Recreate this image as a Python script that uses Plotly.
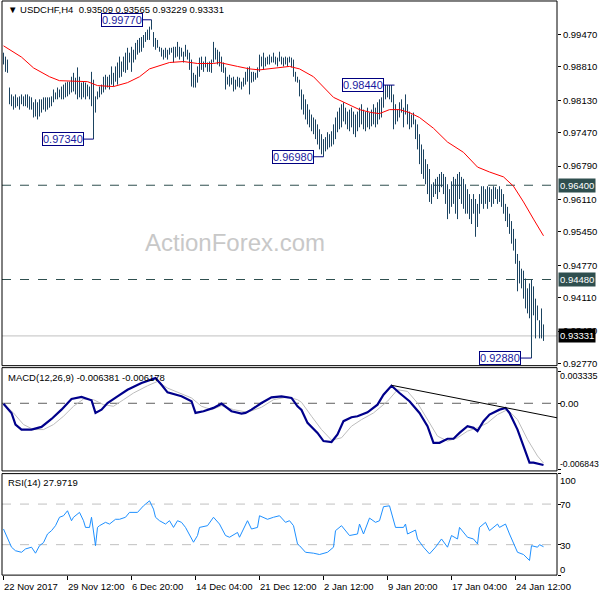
import plotly.graph_objects as go

# ---------------- data ----------------
bar_high = [
    .9910, .9902, .9896, .9839, .9825, .9821, .9825, .9819, .9821, .9825,
    .9821, .9825, .9825, .9821, .9819, .9809, .9815, .9809, .9815, .9815,
    .9819, .9819, .9819, .9819, .9821, .9835, .9829, .9839, .9835, .9841,
    .9845, .9849, .9851, .9851, .9861, .9869, .9859, .9880, .9861, .9849,
    .9851, .9849, .9845, .9841, .9871, .9855, .9821, .9831, .9841, .9845,
    .9861, .9865, .9861, .9865, .9882, .9869, .9882, .9890, .9902, .9892,
    .9902, .9910, .9920, .9910, .9922, .9916, .9930, .9936, .9940, .9942,
    .9946, .9952, .9957, .9963, .9977, .9952, .9940, .9936, .9922, .9920,
    .9916, .9920, .9916, .9920, .9920, .9922, .9922, .9932, .9922, .9920,
    .9912, .9926, .9916, .9910, .9896, .9869, .9865, .9882, .9900, .9902,
    .9892, .9902, .9890, .9892, .9896, .9932, .9920, .9916, .9912, .9902,
    .9890, .9880, .9861, .9865, .9859, .9861, .9855, .9861, .9859, .9851,
    .9859, .9871, .9880, .9882, .9871, .9871, .9869, .9880, .9906, .9902,
    .9910, .9900, .9902, .9906, .9902, .9910, .9902, .9900, .9912, .9902,
    .9900, .9902, .9900, .9902, .9900, .9896, .9871, .9861, .9855, .9835,
    .9825, .9815, .9805, .9794, .9784, .9778, .9774, .9764, .9754, .9744,
    .9734, .9738, .9748, .9744, .9750, .9764, .9778, .9790, .9798, .9805,
    .9809, .9798, .9790, .9794, .9798, .9790, .9784, .9790, .9798, .9805,
    .9794, .9790, .9798, .9788, .9794, .9805, .9798, .9809, .9815, .9819,
    .9844, .9844, .9844, .9844, .9844, .9825, .9805, .9794, .9809, .9815,
    .9798, .9825, .9805, .9790, .9784, .9788, .9774, .9764, .9744, .9723,
    .9713, .9693, .9683, .9673, .9642, .9646, .9653, .9657, .9663, .9667,
    .9663, .9657, .9642, .9632, .9648, .9657, .9653, .9663, .9667, .9657,
    .9653, .9642, .9632, .9622, .9612, .9622, .9612, .9602, .9622, .9638,
    .9638, .9632, .9638, .9636, .9632, .9638, .9636, .9632, .9638, .9632,
    .9622, .9602, .9596, .9582, .9567, .9551, .9531, .9500, .9486, .9470,
    .9466, .9450, .9430, .9440, .9448, .9434, .9409, .9395, .9365, .9389,
    .93565,
]
bar_low = [
    .9886, .9871, .9869, .9805, .9801, .9794, .9798, .9801, .9794, .9805,
    .9801, .9801, .9798, .9794, .9794, .9778, .9780, .9774, .9780, .9788,
    .9794, .9790, .9794, .9798, .9801, .9809, .9815, .9815, .9819, .9815,
    .9815, .9819, .9821, .9825, .9829, .9831, .9825, .9815, .9819, .9815,
    .9819, .9815, .9821, .9815, .9801, .9734, .9788, .9815, .9819, .9825,
    .9829, .9835, .9839, .9835, .9845, .9841, .9851, .9845, .9859, .9861,
    .9871, .9869, .9875, .9890, .9871, .9890, .9896, .9906, .9910, .9912,
    .9920, .9932, .9936, .9936, .9957, .9922, .9916, .9920, .9912, .9902,
    .9896, .9900, .9896, .9906, .9910, .9890, .9900, .9902, .9896, .9902,
    .9890, .9902, .9896, .9875, .9841, .9839, .9839, .9849, .9861, .9875,
    .9871, .9880, .9871, .9871, .9869, .9890, .9896, .9886, .9882, .9871,
    .9869, .9835, .9845, .9841, .9845, .9831, .9835, .9841, .9839, .9835,
    .9841, .9845, .9851, .9825, .9849, .9851, .9855, .9859, .9871, .9882,
    .9875, .9882, .9886, .9886, .9890, .9890, .9886, .9882, .9892, .9886,
    .9882, .9886, .9882, .9890, .9880, .9861, .9851, .9849, .9821, .9794,
    .9784, .9774, .9764, .9758, .9750, .9744, .9734, .9723, .9713, .9703,
    .9698, .9709, .9713, .9717, .9719, .9723, .9734, .9748, .9754, .9758,
    .9770, .9764, .9754, .9750, .9758, .9744, .9738, .9750, .9758, .9764,
    .9754, .9750, .9758, .9754, .9760, .9764, .9758, .9764, .9774, .9778,
    .9798, .9815, .9819, .9815, .9809, .9754, .9764, .9770, .9778, .9788,
    .9758, .9784, .9764, .9754, .9758, .9764, .9734, .9713, .9683, .9663,
    .9653, .9642, .9622, .9606, .9602, .9616, .9622, .9612, .9626, .9636,
    .9622, .9602, .9571, .9582, .9596, .9602, .9582, .9571, .9612, .9602,
    .9592, .9582, .9582, .9571, .9561, .9582, .9535, .9555, .9582, .9602,
    .9592, .9602, .9592, .9606, .9596, .9602, .9612, .9602, .9606, .9596,
    .9582, .9567, .9555, .9541, .9521, .9507, .9480, .9424, .9440, .9430,
    .9409, .9389, .9379, .9369, .9288, .9375, .9328, .9365, .9328, .9328,
    .93229,
]

ma_idx = [0, 9, 15, 23, 28, 42, 47, 55, 62, 68, 73, 83, 90, 97, 105, 108, 117, 123,
          128, 133, 143, 148, 155, 165, 168, 173, 178, 184, 188, 193, 198, 203, 208,
          215, 222, 230, 237, 243, 250, 255, 260, 265, 270]
ma_val = [.9924, .9901, .9879, .9861, .9853, .9851, .9843, .9841, .9849, .9861, .9877,
          .9890, .9892, .9888, .9888, .9890, .9882, .9877, .9875, .9877, .9882, .9877,
          .9861, .9819, .9813, .9803, .9794, .9788, .9786, .9794, .9794, .9788, .9778,
          .9756, .9728, .9707, .9677, .9667, .9657, .9638, .9606, .9571, .9537]

macd_idx = [0, 4, 6, 9, 14, 19, 24, 29, 34, 39, 44, 46, 49, 52, 57, 62, 69, 74, 76, 79,
            82, 89, 94, 96, 100, 105, 109, 114, 119, 121, 124, 129, 134, 139, 144, 147,
            149, 152, 157, 160, 164, 167, 170, 174, 177, 182, 187, 190, 194, 198, 203,
            208, 212, 215, 218, 222, 225, 228, 232, 235, 237, 240, 243, 248, 251, 253,
            257, 260, 263, 265, 267, 268, 270]
macd_val = [-0.00004, -0.00100, -0.00220, -0.00272, -0.00272, -0.00244, -0.00162,
            -0.00066, 0.00044, 0.00065, 0.00031, -0.00100, -0.00066, 0.00003, 0.00072,
            0.00140, 0.00209, 0.00250, 0.00260, 0.00191, 0.00113, 0.00072, 0.00021,
            -0.00100, -0.00082, -0.00048, -0.00004, -0.00082, -0.00107, -0.00100,
            -0.00066, 0.00003, 0.00062, 0.00072, 0.00055, -0.00031, -0.00069, -0.00203,
            -0.00306, -0.00391, -0.00401, -0.00323, -0.00185, -0.00144, -0.00134,
            -0.00093, -0.00014, 0.00088, 0.00181, 0.00106, 0.00021, -0.00100, -0.00237,
            -0.00409, -0.00409, -0.00367, -0.00367, -0.00306, -0.00237, -0.00254,
            -0.00288, -0.00185, -0.00117, -0.00066, -0.00048, -0.00100, -0.00272,
            -0.00442, -0.00614, -0.00614, -0.00625, -0.00635, -0.006381]

signal_idx = [0, 5, 10, 15, 20, 25, 30, 35, 40, 45, 50, 55, 60, 65, 72, 77, 82, 89, 94,
              99, 104, 109, 115, 122, 129, 135, 142, 147, 149, 154, 159, 164, 169, 174,
              179, 185, 192, 197, 202, 207, 212, 217, 222, 227, 232, 237, 242, 247, 252,
              257, 262, 267, 270]
signal_val = [-0.00004, -0.00100, -0.00220, -0.00272, -0.00272, -0.00220, -0.00134,
              -0.00031, 0.00044, 0.00037, -0.00014, -0.00031, 0.00037, 0.00106, 0.00181,
              0.00226, 0.00157, 0.00099, 0.00055, -0.00031, -0.00066, -0.00025, -0.00066,
              -0.00093, -0.00041, 0.00037, 0.00065, 0.00037, 0.00010, -0.00134, -0.00272,
              -0.00381, -0.00357, -0.00237, -0.00169, -0.00100, 0.00021, 0.00140, 0.00123,
              0.00003, -0.00169, -0.00340, -0.00391, -0.00357, -0.00288, -0.00254,
              -0.00203, -0.00117, -0.00066, -0.00169, -0.00375, -0.00545, -0.006178]

trend_idx = [194, 277]
trend_val = [0.00186, -0.00151]

rsi_idx = [0, 2, 4, 6, 9, 11, 14, 16, 18, 20, 22, 24, 26, 28, 30, 32, 34, 35, 38, 40,
           41, 43, 44, 46, 47, 48, 51, 53, 56, 58, 61, 63, 67, 70, 73, 75, 76, 78, 81,
           83, 85, 87, 89, 91, 93, 95, 97, 98, 102, 105, 108, 111, 113, 117, 118, 122,
           124, 127, 128, 132, 135, 138, 141, 143, 145, 147, 148, 151, 155, 158, 162,
           165, 166, 169, 173, 177, 178, 180, 183, 186, 188, 190, 193, 196, 200, 201,
           202, 206, 207, 210, 213, 216, 219, 222, 224, 227, 228, 232, 235, 237, 238,
           241, 243, 247, 248, 251, 253, 257, 260, 263, 264, 267, 268, 270]
rsi_val = [45.4, 37, 27.5, 24, 22.5, 25.8, 27.5, 21.6, 29, 32, 40.5, 43.8, 48.7, 57, 58.5,
           63.4, 53.6, 57, 61.8, 53.6, 47, 47, 57, 29, 47, 48.7, 52, 50.3, 55, 55, 57,
           61.8, 61.8, 68.3, 73.2, 65, 57, 53.6, 50.3, 53.6, 47, 53.6, 52, 47, 39, 32.4,
           39, 47, 48.7, 57, 50.3, 39, 37.3, 42, 37.3, 53.6, 45.4, 47, 58.5, 55, 57, 58.5,
           52, 53.6, 48.7, 30.7, 29, 22.5, 21.6, 20.3, 22.5, 27.5, 43.8, 48.7, 39, 40.5,
           50.3, 40.5, 56.2, 52, 53.6, 67.4, 68.3, 47, 47, 50.3, 40.5, 44.4, 35.6, 27.5,
           20.9, 27.5, 35.6, 27.5, 39, 35.6, 47, 37.3, 35.6, 30.7, 47, 52, 43.8, 50.3, 47,
           50.3, 40.5, 22.5, 20.3, 14.4, 29, 27.5, 30, 27.9719]

price_ticks = [0.99470, 0.98810, 0.98130, 0.97470, 0.96790, 0.96110, 0.95450,
               0.94770, 0.94110, 0.93430, 0.92770]
macd_ticks = [0.003335, 0.0, -0.006843]
rsi_ticks = [100, 70, 30, 0]
date_idx = [0, 32, 64, 96, 128, 160, 192, 224, 256]
date_labels = ["22 Nov 2017", "29 Nov 12:00", "6 Dec 20:00", "14 Dec 04:00",
               "21 Dec 12:00", "2 Jan 12:00", "9 Jan 20:00", "17 Jan 04:00",
               "24 Jan 12:00"]
levels = [0.9640, 0.9448]
last_price = 0.93331
last_ohlc = ["0.93509", "0.93565", "0.93229", "0.93331"]
macd_now = ["-0.006381", "-0.006178"]
rsi_now = "27.9719"
# swing labels: (price, box right edge index, bar index)
swings = [(0.99770, 69.5, 74), (0.97340, 40.0, 45), (0.96980, 155.0, 160),
          (0.98440, 190.0, 195.5), (0.92880, 258.5, 264)]

# ---------------- figure ----------------
W = H = 600
ML, MR = 2, 43
FONT = "Liberation Sans, Arial, sans-serif"


def pyp(p):
    return 1 - p / H


def pxp(p):
    return (p - ML) / (W - ML - MR)


bx, byv = [], []
for i, (h, l) in enumerate(zip(bar_high, bar_low)):
    bx += [i, i, None]
    byv += [l, h, None]

fig = go.Figure()
fig.add_trace(go.Scatter(x=bx, y=byv, mode="lines", line=dict(color="#1B4360", width=1),
                         yaxis="y", hoverinfo="skip", connectgaps=False))
fig.add_trace(go.Scatter(x=ma_idx, y=ma_val, mode="lines", line=dict(color="#FF0000", width=1),
                         yaxis="y", hoverinfo="skip"))
fig.add_trace(go.Scatter(x=signal_idx, y=signal_val, mode="lines",
                         line=dict(color="#BDBDBD", width=1), yaxis="y2", hoverinfo="skip"))
fig.add_trace(go.Scatter(x=macd_idx, y=macd_val, mode="lines",
                         line=dict(color="#00008B", width=2.2), yaxis="y2", hoverinfo="skip"))
fig.add_trace(go.Scatter(x=trend_idx, y=trend_val, mode="lines",
                         line=dict(color="#000000", width=1), yaxis="y2", hoverinfo="skip"))
fig.add_trace(go.Scatter(x=rsi_idx, y=rsi_val, mode="lines",
                         line=dict(color="#1E90FF", width=1), yaxis="y3", hoverinfo="skip"))

main_dom = [pyp(367.5), pyp(1)]
macd_dom = [pyp(473.3), pyp(369.5)]
rsi_dom = [pyp(578), pyp(476)]
tickfont = dict(family=FONT, size=9.5, color="#000000")

fig.update_layout(
    width=W, height=H, margin=dict(l=ML, r=MR, t=0, b=0),
    paper_bgcolor="white", plot_bgcolor="white", showlegend=False,
    xaxis=dict(range=[-0.75, 276.75], anchor="y3", showgrid=False, zeroline=False,
               tickvals=date_idx, ticks="outside", ticklen=4, tickcolor="black",
               showticklabels=False, showline=False),
    yaxis=dict(domain=main_dom, range=[0.92725, 1.00153], side="right", anchor="x",
               showgrid=False, zeroline=False, tickvals=price_ticks,
               ticktext=[f"{v:.5f}" for v in price_ticks], ticks="outside", ticklen=3,
               tickcolor="black", tickfont=tickfont),
    yaxis2=dict(domain=macd_dom, range=[-0.006997, 0.003684], side="right", anchor="x",
                showgrid=False, zeroline=False, tickvals=macd_ticks, ticks="outside",
                ticklen=3, tickcolor="black", showticklabels=False),
    yaxis3=dict(domain=rsi_dom, range=[0, 100], side="right", anchor="x",
                showgrid=False, zeroline=False, tickvals=rsi_ticks, ticks="outside",
                ticklen=3, tickcolor="black", showticklabels=False),
)

shapes = []
for yr in ["y domain", "y2 domain", "y3 domain"]:
    shapes.append(dict(type="rect", xref="paper", yref=yr, x0=0, x1=1, y0=0, y1=1,
                       line=dict(color="black", width=1), layer="above"))
for lv in levels:
    shapes.append(dict(type="line", xref="paper", yref="y", x0=0, x1=1, y0=lv, y1=lv,
                       line=dict(color="#2F4F4F", width=1, dash="dash"), layer="below"))
shapes.append(dict(type="line", xref="paper", yref="y", x0=0, x1=1, y0=last_price,
                   y1=last_price, line=dict(color="#C0C0C0", width=1), layer="below"))
shapes.append(dict(type="line", xref="paper", yref="y2", x0=0, x1=1, y0=0, y1=0,
                   line=dict(color="#606060", width=1, dash="dash"), layer="below"))
for lv in [70, 30]:
    shapes.append(dict(type="line", xref="paper", yref="y3", x0=0, x1=1, y0=lv, y1=lv,
                       line=dict(color="#C0C0C0", width=1, dash="dash"), layer="below"))
for price, edge, bar in swings:
    shapes.append(dict(type="line", xref="x", yref="y", x0=edge, x1=bar, y0=price, y1=price,
                       line=dict(color="#000080", width=1)))

ann = []
# swing boxes
for price, edge, bar in swings:
    ann.append(dict(x=edge, y=price, xref="x", yref="y", text=f"{price:.5f}",
                    showarrow=False, xanchor="right", yanchor="middle",
                    font=dict(family=FONT, size=11, color="#1A1AA0"),
                    bgcolor="white", bordercolor="#000080", borderwidth=1, borderpad=0))
# level price tags on the right
for lv in levels:
    ann.append(dict(x=1, y=lv, xref="paper", yref="y", text=f"{lv:.5f}", showarrow=False,
                    xanchor="left", yanchor="middle", xshift=1,
                    font=dict(family=FONT, size=9.5, color="white"),
                    bgcolor="#2F4F4F", borderpad=1))
ann.append(dict(x=1, y=last_price, xref="paper", yref="y", text=f"{last_price:.5f}",
                showarrow=False, xanchor="left", yanchor="middle", xshift=1,
                font=dict(family=FONT, size=9.5, color="white"), bgcolor="black",
                borderpad=1))
# indicator axis labels
ind_labels = [("0.003335", 378.3, 9), ("0.00", 405.3, 9.5), ("-0.006843", 466.7, 8.6),
              ("100", 483, 9.5), ("70", 507, 9.5), ("30", 548, 9.5), ("0", 572, 9.5)]
for txt, ypix, fs in ind_labels:
    ann.append(dict(x=1, y=pyp(ypix), xref="paper", yref="paper", text=txt, showarrow=False,
                    xanchor="left", yanchor="middle", xshift=1,
                    font=dict(family=FONT, size=fs, color="black")))
# date labels
for idx, lab in zip(date_idx, date_labels):
    ann.append(dict(x=idx, y=pyp(589.5), xref="x", yref="paper", text=lab, showarrow=False,
                    xanchor="left", yanchor="middle", xshift=-2,
                    font=dict(family=FONT, size=9.5, color="black")))
# panel titles
ann.append(dict(x=pxp(6), y=pyp(10), xref="paper", yref="paper",
                text="▼ USDCHF,H4  " + " ".join(last_ohlc), showarrow=False,
                xanchor="left", yanchor="middle", font=dict(family=FONT, size=9.5, color="black")))
ann.append(dict(x=pxp(6), y=pyp(379.5), xref="paper", yref="paper",
                text="MACD(12,26,9) " + " ".join(macd_now), showarrow=False,
                xanchor="left", yanchor="middle", font=dict(family=FONT, size=9.5, color="black")))
ann.append(dict(x=pxp(6), y=pyp(485), xref="paper", yref="paper",
                text="RSI(14) " + rsi_now, showarrow=False,
                xanchor="left", yanchor="middle", font=dict(family=FONT, size=9.5, color="black")))
# watermark
ann.append(dict(x=pxp(235), y=pyp(244), xref="paper", yref="paper", text="ActionForex.com",
                showarrow=False, xanchor="center", yanchor="middle",
                font=dict(family=FONT, size=24, color="#C8C8C8")))

fig.update_layout(shapes=shapes, annotations=ann)
fig.write_html("out.html", config={"displayModeBar": False},
               post_script="document.body.style.margin='0';"
                           "document.body.style.overflow='hidden';")
